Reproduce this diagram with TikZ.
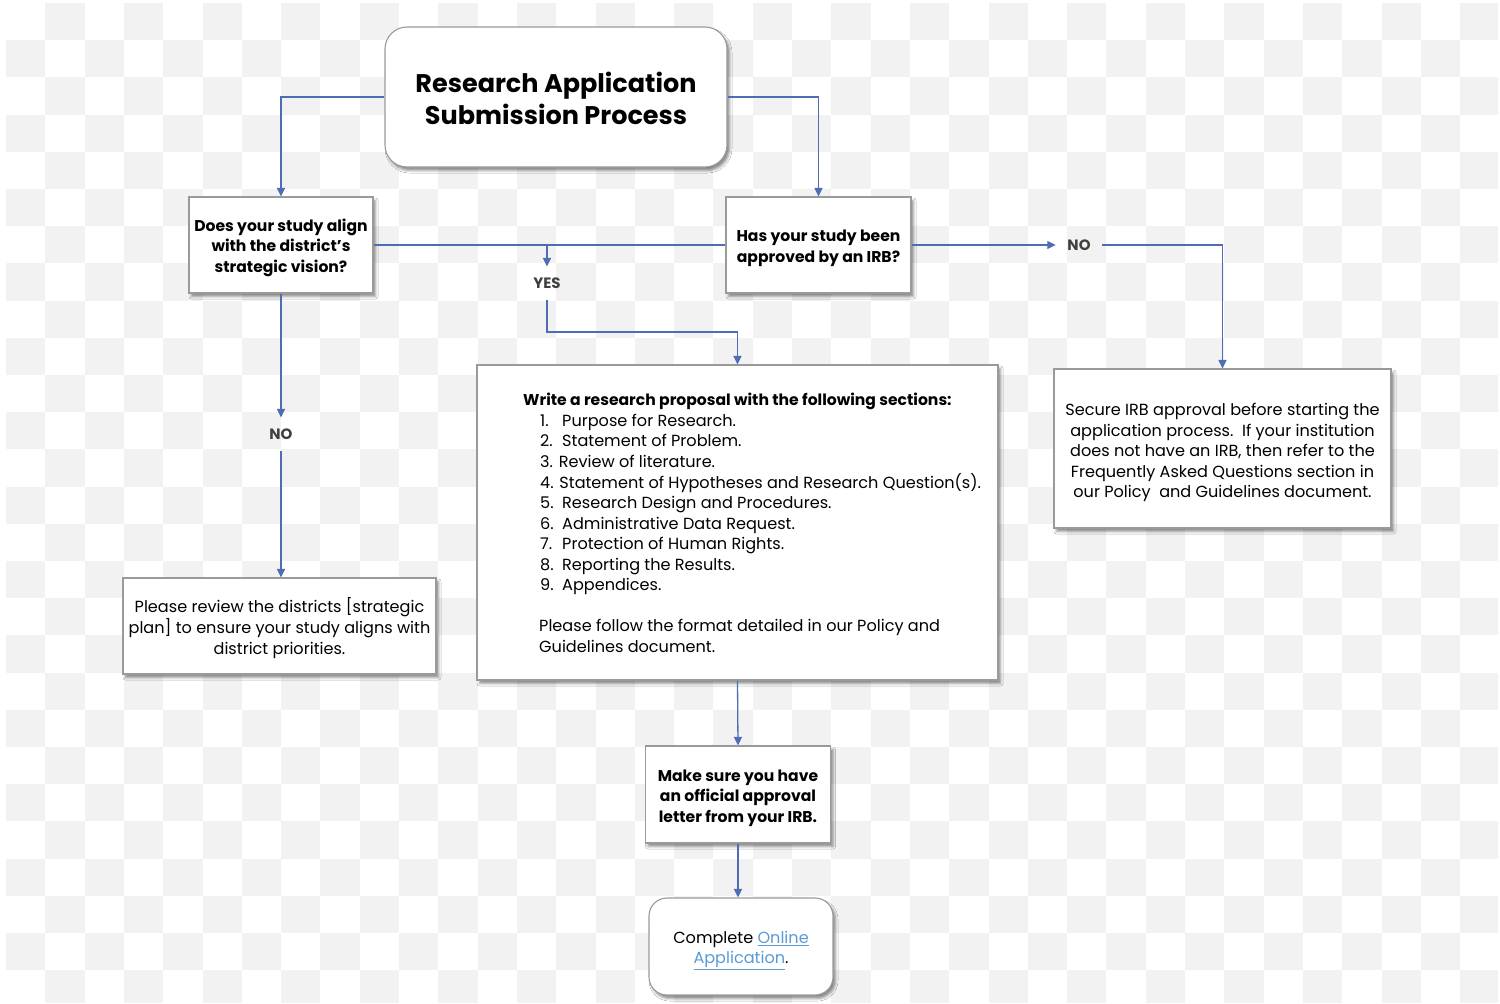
\documentclass[tikz,border=0pt]{standalone}
\usepackage{fontspec}
\setmainfont{Poppins}
\usetikzlibrary{arrows.meta,shadows.blur}
\definecolor{chk}{HTML}{F2F2F2}
\definecolor{conn}{HTML}{4F6DB3}
\definecolor{bord}{HTML}{9A9A9A}
\definecolor{lab}{HTML}{404040}
\definecolor{link}{HTML}{5B9BD5}
\newcommand{\boxtext}[2][-3pt]{\raisebox{#1}[\height][\depth]{\begin{tabular}{@{}c@{}}#2\end{tabular}}}
\begin{document}
\begin{tikzpicture}[x=1pt,y=-1pt,
  box/.style={draw=bord, line width=1.1pt, fill=white, align=center, inner sep=0pt,
    blur shadow={shadow xshift=2.5pt, shadow yshift=-3.5pt, shadow blur radius=2.5pt, shadow opacity=45}},
  bodyr/.style={font=\fontsize{16.1}{20.5}\selectfont},
  bodyb/.style={font=\fontsize{15.6}{20.5}\selectfont\bfseries},
  titlef/.style={font=\fontsize{25.5}{32}\selectfont\bfseries},
  lbl/.style={font=\fontsize{15}{18}\selectfont\bfseries, text=lab, inner xsep=11.5pt, inner ysep=11pt},
  conn/.style={draw=conn, line width=1.3pt, -{Triangle[length=8.5pt,width=8pt]}},
  plain/.style={draw=conn, line width=1.3pt}
]
\useasboundingbox (0,0) rectangle (1500,1004);
\fill[white] (0,0) rectangle (1500,1004);
\begin{scope}
\clip (6,3) rectangle (1498,1002);
\foreach \i in {0,...,37}{\foreach \j in {0,...,26}{%
  \pgfmathtruncatemacro\s{mod(\i+\j,2)}%
  \ifnum\s=1 \fill[chk] ({6+\i*39.3},{3+\j*37.2}) rectangle ++(39.3,37.2);\fi}}
\end{scope}

\node[box, rounded corners=22pt, minimum width=342pt, minimum height=140pt, titlef] (title) at (556,97) {\boxtext[-5pt]{Research Application\\Submission Process}};
\node[box, minimum width=184pt, minimum height=96pt, bodyb] (A) at (281,245) {\boxtext[-2.5pt]{Does your study align\\with the district's\\strategic vision?}};
\node[box, minimum width=185pt, minimum height=96pt, bodyb] (B) at (818.5,245) {\boxtext{Has your study been\\approved by an IRB?}};
\node[box, minimum width=521pt, minimum height=315pt] (prop) at (737.5,522.5) {};
\node[anchor=base west, inner sep=0pt, bodyr] (proptext) at (523,405.5) {\begin{tabular}[t]{@{}l@{}}
{\fontsize{15.6}{20.5}\selectfont\bfseries Write a research proposal with the following sections:}\\
\hspace*{17pt}\makebox[22pt][l]{1.}Purpose for Research.\\
\hspace*{17pt}\makebox[22pt][l]{2.}Statement of Problem.\\
\hspace*{17pt}3. Review of literature.\\
\hspace*{17pt}4. Statement of Hypotheses and Research Question(s).\\
\hspace*{17pt}\makebox[22pt][l]{5.}Research Design and Procedures.\\
\hspace*{17pt}\makebox[22pt][l]{6.}Administrative Data Request.\\
\hspace*{17pt}\makebox[22pt][l]{7.}Protection of Human Rights.\\
\hspace*{17pt}\makebox[22pt][l]{8.}Reporting the Results.\\
\hspace*{17pt}\makebox[22pt][l]{9.}Appendices.\\
\\
\hspace*{16pt}Please follow the format detailed in our Policy and\\
\hspace*{16pt}Guidelines document.
\end{tabular}};
\node[box, minimum width=337pt, minimum height=159pt, bodyr] (irb) at (1222.5,448.5) {\boxtext[-4pt]{Secure IRB approval before starting the\\application process.\ \ If your institution\\does not have an IRB, then refer to the\\Frequently Asked Questions section in\\our Policy\ \ and Guidelines document.}};
\node[box, minimum width=313pt, minimum height=96pt, bodyr] (review) at (279.5,626) {\boxtext{Please review the districts [strategic\\plan] to ensure your study aligns with\\district priorities.}};
\node[box, minimum width=185pt, minimum height=97pt, bodyb] (make) at (738,794.5) {\boxtext{Make sure you have\\an official approval\\letter from your IRB.}};
\node[box, rounded corners=18pt, minimum width=184pt, minimum height=97pt, bodyr] (complete) at (741,946.5) {\boxtext{Complete \textcolor{link}{\underline{Online}}\\\textcolor{link}{\underline{Application}}.}};

\node[lbl] (yes) at (547,283) {YES};
\node[lbl] (noR) at (1079,245) {NO};
\node[lbl] (noL) at (281,434) {NO};

\coordinate (j) at (547,245);
\coordinate (k) at (737.5,332);
\draw[conn] (title.west) -| (A.north);
\draw[conn] (title.east) -| (B.north);
\draw[plain] (A.east) -- (B.west);
\draw[conn] (j) -- (yes.north);
\draw[conn] (yes.south) |- (k) -- (prop.north);
\draw[conn] (B.east) -- (noR.west);
\draw[conn] (noR.east) -| (irb.north);
\draw[conn] (A.south) -- (noL.north);
\draw[conn] (noL.south) -- (noL.south |- review.north);
\draw[conn] (prop.south) -- (make.north);
\draw[conn] (make.south) -- (make.south |- complete.north);
\end{tikzpicture}
\end{document}
